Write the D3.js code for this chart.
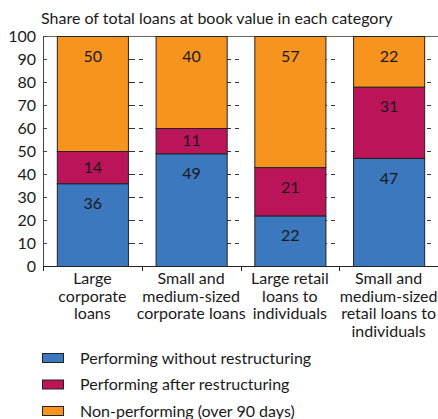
<!DOCTYPE html>
<html>
<head>
<meta charset="utf-8">
<script src="https://cdn.jsdelivr.net/npm/d3@7"></script>
<style>
  body { margin: 0; background: #fff; }
  svg text { font-family: Lato, "Open Sans", sans-serif; fill: #1a1a1a; }
</style>
</head>
<body>
<div id="chart"></div>
<script>
// chart data
let categories = [
  ["Large", "corporate", "loans"],
  ["Small and", "medium-sized", "corporate loans"],
  ["Large retail", "loans to", "individuals"],
  ["Small and", "medium-sized", "retail loans to", "individuals"]
];
let seriesNames = [
  "Performing without restructuring",
  "Performing after restructuring",
  "Non-performing (over 90 days)"
];
let performing = [36, 49, 22, 47];
let restructured = [14, 11, 21, 31];
let nonPerforming = [50, 40, 57, 22];
let yTicks = [0, 10, 20, 30, 40, 50, 60, 70, 80, 90, 100];
let title = "Share of total loans at book value in each category";

let colors = ["#3b78be", "#bb1459", "#f7941e"];
let fontSize = "16px";
let width = 438;
let height = 419;
let margin = { top: 36, right: 0, bottom: 153, left: 43 };
let plotW = width - margin.left - margin.right;
let plotH = height - margin.top - margin.bottom;

let svg = d3.select("#chart")
  .append("svg")
  .attr("width", width)
  .attr("height", height);

svg.append("text")
  .attr("x", 41)
  .attr("y", 24)
  .style("font-size", fontSize)
  .text(title);

let g = svg.append("g")
  .attr("transform", `translate(${margin.left},${margin.top})`);

let x = d3.scaleBand()
  .domain(d3.range(categories.length))
  .range([0, plotW])
  .paddingInner(0.28)
  .paddingOuter(0.14);

let y = d3.scaleLinear()
  .domain([0, 100])
  .range([plotH, 0]);

// rows for the stack
let rows = categories.map((c, i) => ({
  s0: performing[i],
  s1: restructured[i],
  s2: nonPerforming[i]
}));
let layers = d3.stack().keys(["s0", "s1", "s2"])(rows);

// dashed gridlines behind bars
g.append("g")
  .selectAll("line")
  .data(yTicks.filter(d => d > 0 && d < 100))
  .enter().append("line")
  .attr("x1", 0)
  .attr("x2", plotW)
  .attr("y1", d => y(d) + 0.5)
  .attr("y2", d => y(d) + 0.5)
  .attr("stroke", "#333")
  .attr("stroke-width", 1.2)
  .attr("stroke-dasharray", "4,81,7,4");

// top frame line
g.append("line")
  .attr("x1", 0).attr("x2", plotW)
  .attr("y1", 0.5).attr("y2", 0.5)
  .attr("stroke", "#666");

// bars
let layer = g.selectAll(".layer")
  .data(layers)
  .enter().append("g")
  .attr("class", "layer")
  .attr("fill", (d, i) => colors[i]);

layer.selectAll("rect")
  .data(d => d)
  .enter().append("rect")
  .attr("x", (d, j) => x(j) + 0.5)
  .attr("y", d => y(d[1]) + 0.5)
  .attr("width", x.bandwidth())
  .attr("height", d => y(d[0]) - y(d[1]))
  .attr("stroke", "#222")
  .attr("stroke-width", 1);

// value labels
layer.selectAll("text")
  .data(d => d)
  .enter().append("text")
  .attr("x", (d, j) => x(j) + x.bandwidth() / 2 + 0.5)
  .attr("y", d => {
    let top = y(d[1]);
    let h = y(d[0]) - y(d[1]);
    return top + Math.min(h / 2, 20);
  })
  .attr("dy", "0.35em")
  .attr("text-anchor", "middle")
  .style("font-size", fontSize)
  .text(d => d[1] - d[0]);

// y axis
let yAxis = g.append("g")
  .call(d3.axisLeft(y).tickValues(yTicks).tickSize(0).tickPadding(7));
yAxis.select(".domain").attr("stroke", "#444");
yAxis.selectAll("text")
  .style("font-size", fontSize)
  .style("font-family", "Lato, sans-serif")
  .style("fill", "#1a1a1a");

// small inward ticks on the y axis
g.append("g")
  .selectAll("line")
  .data(yTicks)
  .enter().append("line")
  .attr("x1", 0).attr("x2", 4)
  .attr("y1", d => y(d) + 0.5).attr("y2", d => y(d) + 0.5)
  .attr("stroke", "#444");

// x axis with ticks at band boundaries
g.append("line")
  .attr("x1", 0).attr("x2", plotW)
  .attr("y1", plotH + 0.5).attr("y2", plotH + 0.5)
  .attr("stroke", "#222");
g.append("g")
  .selectAll("line")
  .data(d3.range(categories.length + 1))
  .enter().append("line")
  .attr("x1", i => Math.round(i * x.step()) + 0.5)
  .attr("x2", i => Math.round(i * x.step()) + 0.5)
  .attr("y1", plotH)
  .attr("y2", plotH + 5)
  .attr("stroke", "#222");

// category labels
let catLabels = g.append("g")
  .selectAll("text")
  .data(categories)
  .enter().append("text")
  .attr("text-anchor", "middle")
  .attr("transform", (d, i) => `translate(${x(i) + x.bandwidth() / 2},${plotH + 18})`)
  .style("font-size", fontSize);
catLabels.selectAll("tspan")
  .data(d => d)
  .enter().append("tspan")
  .attr("x", 0)
  .attr("y", (d, k) => k * 17.6)
  .text(d => d);

// legend
let legend = svg.append("g")
  .attr("transform", "translate(42,353)");
let item = legend.selectAll("g")
  .data(seriesNames)
  .enter().append("g")
  .attr("transform", (d, i) => `translate(0,${i * 26.5})`);
item.append("rect")
  .attr("x", 0.5).attr("y", 0.5)
  .attr("width", 21).attr("height", 9)
  .attr("fill", (d, i) => colors[i])
  .attr("stroke", "#222");
item.append("text")
  .attr("x", 38)
  .attr("y", 5)
  .attr("dy", "0.35em")
  .style("font-size", fontSize)
  .text(d => d);
</script>
</body>
</html>
